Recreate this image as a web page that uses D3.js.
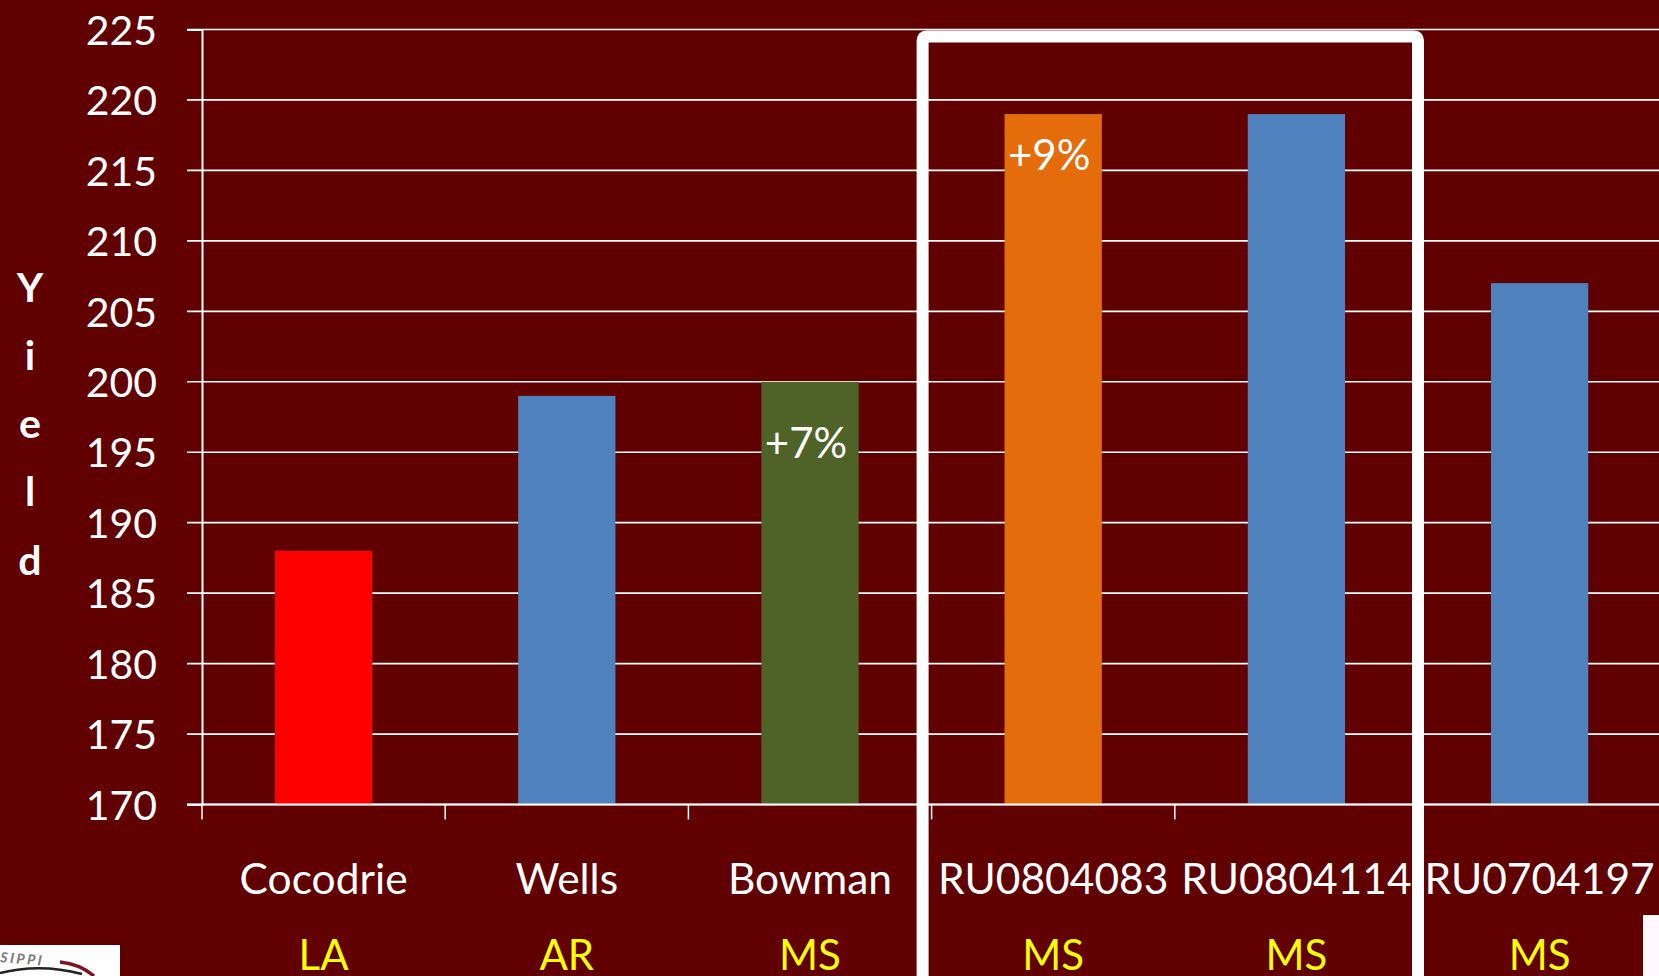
<!DOCTYPE html>
<html>
<head>
<meta charset="utf-8">
<script src="https://cdn.jsdelivr.net/npm/d3@7"></script>
<style>
  html, body { margin: 0; padding: 0; background: #600000; overflow: hidden; }
  svg { display: block; font-family: Lato, "Open Sans", sans-serif; }
</style>
</head>
<body>
<svg id="chart" width="1659" height="976"></svg>
<script>
// chart data
const varieties = ['Cocodrie', 'Wells', 'Bowman', 'RU0804083', 'RU0804114', 'RU0704197'];
const states = ['LA', 'AR', 'MS', 'MS', 'MS', 'MS'];
const yields = [188, 199, 200, 219, 219, 207];
const barColors = ['#ff0000', '#4f81bd', '#4f6228', '#e46c0a', '#4f81bd', '#4f81bd'];
const yTicks = [170, 175, 180, 185, 190, 195, 200, 205, 210, 215, 220, 225];
const yLabel = 'Yield';
// percent callouts drawn inside bars (value = where the text baseline sits)
const calloutCats = ['Bowman', 'RU0804083'];
const calloutText = ['+7%', '+9%'];
const calloutAt = [194.6, 215.0];
// the highlighted group
const boxFrom = 'RU0804083', boxTo = 'RU0804114';

const W = 1659, H = 976;
const left = 202, step = 243.2;
const svg = d3.select('#chart');

let x = d3.scaleBand()
  .domain(varieties)
  .range([left, left + step * varieties.length])
  .padding(0);
let y = d3.scaleLinear().domain([170, 225]).range([804.5, 29.5]);
const barW = x.bandwidth() * 0.4;

svg.append('rect').attr('width', W).attr('height', H).attr('fill', '#600000');

// gridlines
svg.append('g').selectAll('line')
  .data(yTicks)
  .enter()
  .append('line')
  .attr('x1', left - 15).attr('x2', W)
  .attr('y1', d => y(d)).attr('y2', d => y(d))
  .attr('stroke', '#fff').attr('stroke-width', 1.7);

// bars
svg.append('g').selectAll('rect')
  .data(varieties)
  .enter()
  .append('rect')
  .attr('x', d => x(d) + (x.bandwidth() - barW) / 2)
  .attr('width', barW)
  .attr('y', (d, i) => y(yields[i]))
  .attr('height', (d, i) => y(170) - y(yields[i]))
  .attr('fill', (d, i) => barColors[i]);

// y axis
let yAxis = d3.axisLeft(y).tickValues(yTicks).tickSize(15).tickPadding(30);
let ga = svg.append('g').attr('transform', `translate(${left},0)`).call(yAxis);
ga.select('.domain').attr('stroke', '#fff').attr('stroke-width', 2);
ga.selectAll('.tick line').attr('stroke', 'none');
ga.selectAll('.tick text')
  .attr('fill', '#fff').attr('font-size', 41).attr('font-family', 'Lato, sans-serif')
  .attr('dy', '0.36em');

// x axis line and ticks
svg.append('line')
  .attr('x1', left - 15).attr('x2', W)
  .attr('y1', y(170)).attr('y2', y(170))
  .attr('stroke', '#fff').attr('stroke-width', 2);
svg.append('g').selectAll('line')
  .data(varieties)
  .enter()
  .append('line')
  .attr('x1', d => x(d)).attr('x2', d => x(d))
  .attr('y1', y(170)).attr('y2', y(170) + 15)
  .attr('stroke', '#fff').attr('stroke-width', 1.5);

// category labels + state labels
svg.append('g').selectAll('text')
  .data(varieties)
  .enter()
  .append('text')
  .attr('x', d => x(d) + x.bandwidth() / 2)
  .attr('y', 894)
  .attr('text-anchor', 'middle')
  .attr('fill', '#fff').attr('font-size', 42.5)
  .text(d => d);
svg.append('g').selectAll('text')
  .data(states)
  .enter()
  .append('text')
  .attr('x', (d, i) => x(varieties[i]) + x.bandwidth() / 2)
  .attr('y', 970)
  .attr('text-anchor', 'middle')
  .attr('fill', '#ffff00').attr('font-size', 42)
  .text(d => d);

// callouts
svg.append('g').selectAll('text')
  .data(calloutText)
  .enter()
  .append('text')
  .attr('x', (d, i) => x(calloutCats[i]) + x.bandwidth() / 2 - 4)
  .attr('y', (d, i) => y(calloutAt[i]))
  .attr('text-anchor', 'middle')
  .attr('fill', '#fff').attr('font-size', 42)
  .text(d => d);

// highlight box
const bx1 = x(boxFrom) - 9, bx2 = x(boxTo) + x.bandwidth();
const by = y(225) + 7;
svg.append('path')
  .attr('d', `M${bx1},${H + 10} L${bx1},${by + 4} Q${bx1},${by} ${bx1 + 4},${by} ` +
             `L${bx2 - 4},${by} Q${bx2},${by} ${bx2},${by + 4} L${bx2},${H + 10}`)
  .attr('fill', 'none').attr('stroke', '#fff').attr('stroke-width', 12);

// stacked y label
svg.append('g').selectAll('text')
  .data(yLabel.split(''))
  .enter()
  .append('text')
  .attr('x', 30)
  .attr('y', (d, i) => 301.5 + i * 68.3)
  .attr('text-anchor', 'middle')
  .attr('fill', '#fff').attr('font-size', 41).attr('font-weight', 'bold')
  .text(d => d);

// bits of the slide showing at the edges
let logo = svg.append('g');
logo.append('rect').attr('x', 0).attr('y', 945).attr('width', 120).attr('height', 31).attr('fill', '#fff');
logo.append('text').attr('x', 0).attr('y', 962).attr('font-size', 14).attr('font-weight', 'bold')
  .attr('font-style', 'italic').attr('fill', '#777').attr('letter-spacing', 2.5)
  .attr('transform', 'rotate(5,0,962)').text('SIPPI');
logo.append('path').attr('d', 'M60,962 Q80,964 94,976').attr('fill', 'none')
  .attr('stroke', '#7a1020').attr('stroke-width', 3.5);
logo.append('path').attr('d', 'M0,973 Q40,963 82,974').attr('fill', 'none')
  .attr('stroke', '#222').attr('stroke-width', 2.5);
svg.append('rect').attr('x', 1643).attr('y', 915).attr('width', 16).attr('height', 61).attr('fill', '#fff8fc');
</script>
</body>
</html>
